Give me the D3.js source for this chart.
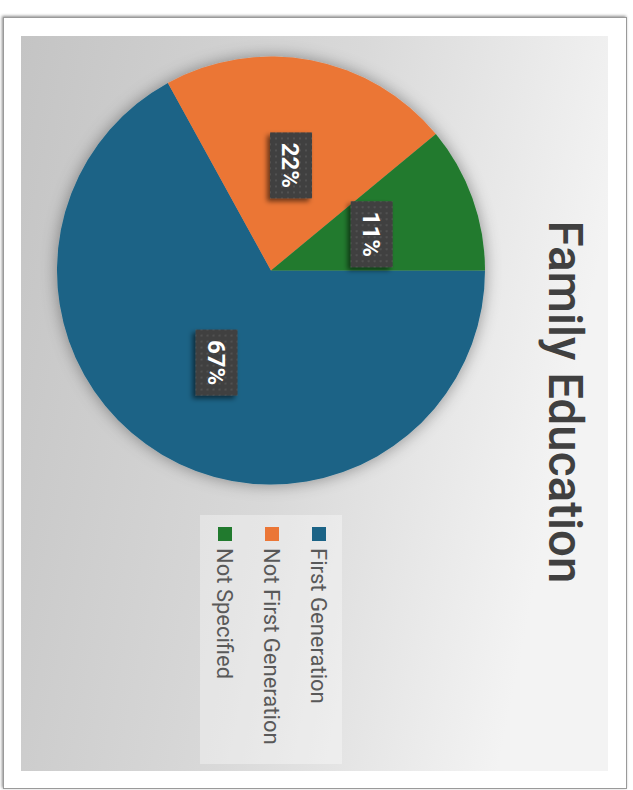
<!DOCTYPE html>
<html>
<head>
<meta charset="utf-8">
<script src="https://cdn.jsdelivr.net/npm/d3@7/dist/d3.min.js"></script>
<style>
  html, body { margin: 0; padding: 0; background: #ffffff; }
  svg { display: block; }
</style>
</head>
<body>
<svg id="chart" width="633" height="790"></svg>
<script>
// Family education breakdown (percent of respondents)
const categories = ["First Generation", "Not First Generation", "Not Specified"];
const values = [67, 22, 11];
const colors = ["#1b6386", "#eb7636", "#217a2e"];
const titleText = "Family Education";

const svg = d3.select("#chart");
const defs = svg.append("defs");

// soft shadow used for the card, the pie and the value tags
function shadow(id, dx, dy, sd, op) {
  const f = defs.append("filter").attr("id", id)
    .attr("x", "-30%").attr("y", "-30%").attr("width", "160%").attr("height", "160%");
  f.append("feDropShadow").attr("dx", dx).attr("dy", dy)
    .attr("stdDeviation", sd).attr("flood-color", "#000").attr("flood-opacity", op);
}
shadow("cardShadow", -1, -1, 1.5, 0.45);
shadow("pieShadow", 0, 0, 8, 0.38);
shadow("tagShadow", -3, 3, 2.5, 0.55);

// panel background gradient
const grad = defs.append("linearGradient").attr("id", "panelGrad")
  .attr("x1", "0").attr("y1", "0").attr("x2", "1").attr("y2", "0.25");
grad.append("stop").attr("offset", "0").attr("stop-color", "#c4c4c4");
grad.append("stop").attr("offset", "0.55").attr("stop-color", "#d9d9d9");
grad.append("stop").attr("offset", "1").attr("stop-color", "#f3f3f3");

// dotted texture on the value tags
const pat = defs.append("pattern").attr("id", "tagDots")
  .attr("width", 6).attr("height", 6).attr("patternUnits", "userSpaceOnUse");
pat.append("rect").attr("width", 6).attr("height", 6).attr("fill", "#404040");
pat.append("circle").attr("cx", 3).attr("cy", 3).attr("r", 0.9).attr("fill", "#595959");

// outer card
svg.append("rect")
  .attr("x", 3.5).attr("y", 17.5).attr("width", 623).attr("height", 771)
  .attr("fill", "#ffffff").attr("stroke", "#9a9a9a").attr("stroke-width", 1)
  .attr("filter", "url(#cardShadow)");

// chart panel
const panel = { x: 21, y: 36, w: 587, h: 735 };
svg.append("rect")
  .attr("x", panel.x).attr("y", panel.y).attr("width", panel.w).attr("height", panel.h)
  .attr("fill", "url(#panelGrad)");

// pie (layout turned a quarter clockwise: first slice starts at 3 o'clock)
const cx = 271, cy = 270.5, radius = 214;
const pie = d3.pie().sort(null).value(d => d.value)
  .startAngle(Math.PI / 2).endAngle(Math.PI / 2 + 2 * Math.PI);
const data = categories.map((c, i) => ({ name: c, value: values[i], color: colors[i] }));
const arcs = pie(data);
const arc = d3.arc().innerRadius(0).outerRadius(radius);

const g = svg.append("g").attr("transform", `translate(${cx},${cy})`);
g.append("g").attr("filter", "url(#pieShadow)")
  .selectAll("path").data(arcs).join("path")
  .attr("d", arc).attr("fill", d => d.data.color);

// value tags
const total = d3.sum(values);
const tagW = 42, tagH = 66;
const tags = g.selectAll("g.tag").data(arcs).join("g")
  .attr("class", "tag")
  .attr("transform", d => {
    const [x, y] = arc.centroid(d);
    return `translate(${x},${y})`;
  });
tags.append("rect")
  .attr("x", -tagW / 2).attr("y", -tagH / 2).attr("width", tagW).attr("height", tagH)
  .attr("fill", "url(#tagDots)").attr("filter", "url(#tagShadow)");
tags.append("text")
  .attr("transform", "rotate(90)")
  .attr("text-anchor", "middle").attr("dy", "0.36em")
  .attr("fill", "#ffffff")
  .style("font-family", "Roboto, 'Noto Sans', sans-serif")
  .style("font-weight", 700).style("font-size", "24px")
  .text(d => Math.round(d.data.value / total * 100) + "%");

// title
svg.append("text")
  .attr("transform", "translate(566,402) rotate(90)")
  .attr("text-anchor", "middle").attr("dy", "0.36em")
  .attr("fill", "#404040")
  .style("font-family", "Roboto, 'Noto Sans', sans-serif")
  .style("font-weight", 500).style("font-size", "47.5px")
  .text(titleText);

// legend
const legend = svg.append("g");
legend.append("rect")
  .attr("x", 200).attr("y", 515).attr("width", 142).attr("height", 249)
  .attr("fill", "#ffffff").attr("fill-opacity", 0.35);
const legendX = d3.scalePoint().domain(categories).range([319, 225]);
const items = legend.selectAll("g.item").data(data).join("g")
  .attr("class", "item")
  .attr("transform", d => `translate(${legendX(d.name)},527)`);
items.append("rect")
  .attr("x", -7).attr("y", 0).attr("width", 14).attr("height", 14)
  .attr("fill", d => d.color);
items.append("text")
  .attr("transform", "translate(0,21) rotate(90)")
  .attr("dy", "0.36em")
  .attr("fill", "#595959")
  .style("font-family", "Roboto, 'Noto Sans', sans-serif")
  .style("font-size", "22px")
  .text(d => d.name);
</script>
</body>
</html>
